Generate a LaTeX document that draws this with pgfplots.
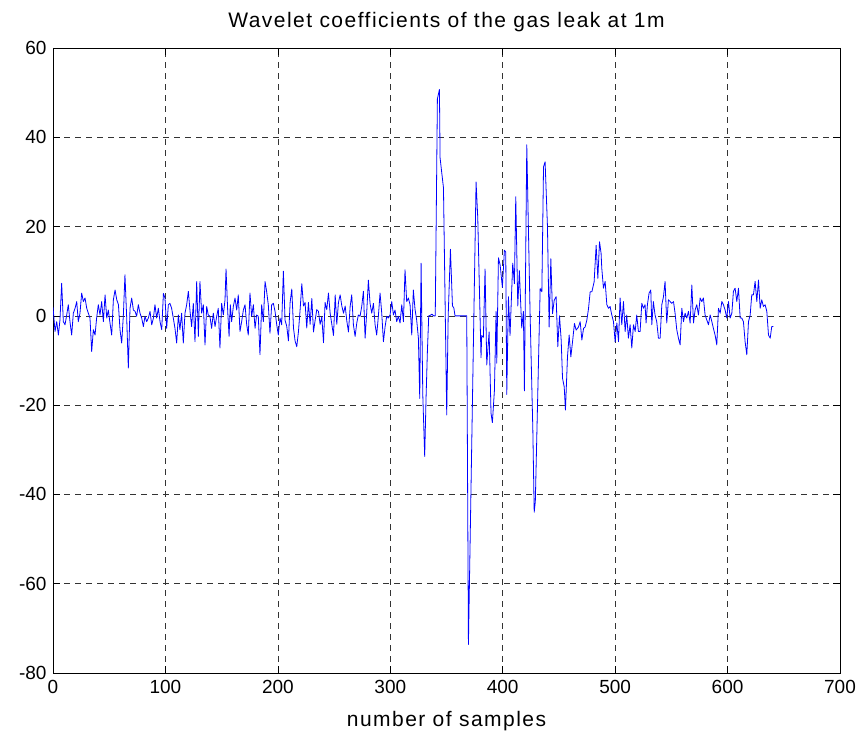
\documentclass[border=0pt]{standalone}
\usepackage{fontspec}
\setmainfont{Liberation Sans}
\newfontfamily\labelfont[LetterSpace=7]{Liberation Sans}
\usepackage{pgfplots}
\usepackage{pgfplotstable}
\pgfplotsset{compat=1.18}

% Wavelet coefficients (sample index, coefficient)
\pgfplotstableread{
x y
0 2
1.8 -3.5
3.3 -1.3
4.8 -4.3
6.2 -0.9
7.7 7.3
9.2 -1.3
10.7 -2
12.2 0.2
13.6 2.5
15.1 -1.3
16.6 -4.3
18.1 0.6
19.6 1.7
21.1 3.2
22.5 -1.3
24 0.6
25.5 5.1
27 3.2
28.5 4
30 1.7
31.4 0.6
32.9 -0.5
34.4 -8
35.9 -3.1
37.4 -4.3
38.8 -0.5
40.3 2.5
41.8 0.2
43.3 3.2
44.8 -1.3
46.3 4.7
47.8 -0.5
49.2 1.3
50.7 -1.6
52.2 -4.3
53.7 3.6
55.2 5.8
56.7 3.6
58.2 2.5
59.6 -3.1
61.1 -6.1
62.6 0.2
64 9.2
65.5 -0.1
67 -11.7
68.5 1.7
70 4
71.5 1.3
73 1
74.4 -0.1
75.9 2.5
77.4 0.6
78.9 -0.5
80.4 -2.4
81.8 -0.1
83.3 -1.3
84.8 -0.5
86.3 1
87.8 -2
89.3 -0.5
90.7 2.5
92.2 -0.5
93.7 1.7
95.2 -1.3
96.7 -3.1
98.2 5
99.6 4
101.1 -2.8
102.6 2.5
104 2.8
105.5 1.7
107 -0.5
108.5 -2.8
110 -6.1
111.5 0.2
112.9 -3.1
114.4 0.6
115.9 -6.1
117.4 0.6
118.9 2.5
120.4 5.5
121.9 1
123.3 -2.4
124.8 2.8
126.3 -5.8
127.8 7.7
129.3 -4.6
130.7 7.7
132.2 0.6
133.7 2.5
135.2 -6.5
136.7 2.1
138.1 0.2
139.6 -0.1
141.1 -2.8
142.6 0.6
144.1 -2.4
145.6 -0.1
147 1.7
148.5 -7.2
150 2.8
151.5 0.2
153 3.6
153.9 10.5
155.4 1
156.6 -4.6
157.7 2.5
158.9 -1.3
160.4 2.1
161.9 4
163.4 1.3
164.8 4.7
166.3 -3.5
167.8 -1.3
169.3 1.3
170.8 2.5
172.3 -2
173.7 -4.3
175.2 5.1
176.7 -0.1
178.2 2.5
179.7 -2.8
181.1 0.2
182.6 -0.1
184.1 -8.7
185.6 2.5
187.1 -1.3
188.6 7.7
190 5.5
191.5 2.5
193 -3.9
194.5 2.5
196 2.8
197.5 1
199 -2
200.4 -4.3
201.9 -0.5
203.4 -2
204.9 10
206.4 -1
207.9 -2.3
209.4 -5.6
210.9 3
212.4 6
213.9 -2.7
215.3 -5.6
216.8 -6.9
218.3 -3.6
219.8 1.4
221.3 7.2
222.8 2.2
224.2 3
225.7 -2.7
227.2 3
228.7 -1.9
230.2 3.9
231.7 -3.6
233.1 -1.1
234.6 1.4
236.1 1
237.6 -1.9
239.1 -0.2
240.6 -6
242 3
243.5 1.4
245 5.1
246.5 0.6
248 -1.9
249.5 -4.4
251 4.7
252.4 -1.9
253.9 3
255.4 4.7
256.9 2.2
258.4 0.6
259.9 2.2
261.3 -1.1
262.8 -3.6
264.3 2.1
265.7 4.7
267.2 -2
268.7 -4.6
270.2 -1.6
271.6 0.2
273.1 -0.1
274.6 2.1
276.1 5.5
277.6 -5
279 0.6
280.5 8
282 2.8
283.5 0.6
285 2.8
286.5 -2
287.9 -4.3
289.4 -0.1
290.9 5.1
292.4 0.6
293.9 -5.8
295.4 -2.4
296.8 -0.1
298.3 -0.5
299.8 0.2
301.3 3.2
302.8 0.2
304.2 1.3
305.7 -1.3
307.2 -0.1
308.7 -1.6
310.2 2.5
311.7 -1.3
313.1 10.3
314.6 3.2
316.1 4
317.6 2.5
319.1 -4.3
320.5 5.8
322 1.5
323.5 -1
325 -5
326.2 -18.5
327.4 11.8
328.9 -17.6
330.6 -31.5
331.8 -18.5
333 -8
334.2 0
335.5 0.1
337 0.4
338.5 0
340 0
341.9 48.6
343.7 50.7
344.3 35.4
345.8 32
347.3 28.7
350.2 -22.2
351.5 0
353.5 14.9
355.3 2.2
356.5 1.8
357.6 0
359 0
362 0
365 0
368 0
369.5 -73.6
376.3 30
377.8 22
380.7 -9.4
381.3 -4.4
382.8 -4.8
384.3 10.5
385.8 -11
387.9 -3.6
389.6 -21.8
390.8 -23.9
392.6 -16.8
394.1 1
394.7 -10.6
396.2 13
397.7 11.4
399.7 6.4
401.5 14.7
402.7 14.3
403.6 -17.6
405.1 4.3
406.5 -4.4
408.9 11.8
410.4 7.2
411.6 26.7
413.4 2.2
414.8 10.1
416.9 -2.7
418.4 1
419.3 -16.8
421.4 38.3
424.3 1
426.8 -25.6
428 -44
429 -41.6
433.3 6.1
434.8 5.4
436.3 33.4
437.7 34.5
439.8 20
441.3 -2.5
442.8 12.8
444.3 0.5
445.8 3.5
447.5 4.3
449 -6.9
450.5 0
452 -5.4
453.2 -14
454.7 -15.9
455.8 -21.1
457.6 -9.2
459.1 -4.3
460.6 -9.2
462.1 -5.8
463.8 -1.7
465.3 -3.2
467.4 -2.5
468.9 -1.3
470.4 -5.4
471.9 -2.8
473.3 -2.5
474.8 -1
476.3 1.6
477.8 5.4
479.3 5.4
481.3 7.6
483.1 15.8
484.6 8.4
486.1 16.6
487.5 14
488.1 10.7
489.6 6.2
491.1 7.7
492.6 2.5
494.1 1.7
495.5 2.1
497 0.2
498.5 -1.3
500 -5.8
501.5 -1.6
503 -5.8
504.4 4
505.9 -2
507.4 3.2
508.9 -3.5
510.3 0.2
511.8 -5
513.3 -2
514.8 -7.2
516.3 -2
517.8 -3.5
519.2 0.2
520.7 -3.5
522.2 -3.5
523.7 2.8
525.2 1.7
526.6 2.5
527.5 -1.6
528.7 2.5
530.2 5.1
531.7 5.8
532.6 -2
534 3.2
535.5 0.2
537 -1.3
538.5 -5
540 -5
541.5 2.5
543 4.3
544.4 7.7
545.9 -1.6
547.4 3.6
548.9 3.2
550.4 2.8
551.9 3.2
553.3 0.6
554.8 -3.1
556.3 -5
557.8 -6.5
559.3 1.7
560.8 -1.3
562.2 0.6
563.7 -0.5
565.2 1
566.7 -1.6
568.2 6.9
569.7 -1.6
571.1 1.3
572.6 2.5
574.1 0.2
575.6 4
577.1 3.2
578.5 4
580 0.2
581.5 -0.9
583 -2
584.5 0.2
586 -1.3
587.4 -2.8
588.9 -4.3
590.4 -6.5
591.9 1.7
593.4 0.6
594.9 3.2
596.3 2.5
597.8 1.3
599.3 -0.5
600.8 3.2
602.3 -0.5
603.8 0.6
605.2 5.5
606.7 6.2
608.2 3.2
609.7 6.2
611.2 -0.5
612.6 -0.5
614.1 -1.3
615.6 -5.8
617.1 -8.7
618.6 -1.3
620.1 0.2
621.5 4.7
623 4.7
624.5 7.7
626 3.2
627.5 8
629 1.7
630.4 3.6
631.9 2.1
633.4 2.5
634.9 1
636.4 -4.3
637.9 -5
639.3 -2.4
640.8 -2.4
}\leakdata

\begin{document}
\begin{tikzpicture}[x=1pt,y=1pt]
\useasboundingbox (0,0) rectangle (867,738);
\begin{axis}[
  scale only axis,
  width=787pt, height=625pt,
  at={(53pt,65pt)}, anchor=south west,
  xmin=0, xmax=700, ymin=-80, ymax=60,
  xtick={0,100,...,700},
  ytick={-80,-60,...,60},
  tick align=inside,
  major tick length=7pt,
  every tick/.style={black, line width=0.6pt},
  axis line style={black, line width=0.8pt},
  grid=major,
  major grid style={black!80, dash pattern=on 6pt off 5pt, line width=0.6pt},
  /pgf/number format/assume math mode=true,
  tick label style={font=\fontsize{19}{22}\selectfont},
  xticklabel style={yshift=-4pt},
  yticklabel style={xshift=-3pt},
  title={Wavelet coefficients of the gas leak at 1m},
  title style={font=\labelfont\fontsize{21}{24}\selectfont, yshift=7pt},
  xlabel={number of samples},
  xlabel style={font=\labelfont\fontsize{21}{24}\selectfont, yshift=-10pt},
]
\addplot[blue, line width=0.8pt, line join=round] table[x=x, y=y] {\leakdata};
\end{axis}
\end{tikzpicture}
\end{document}
